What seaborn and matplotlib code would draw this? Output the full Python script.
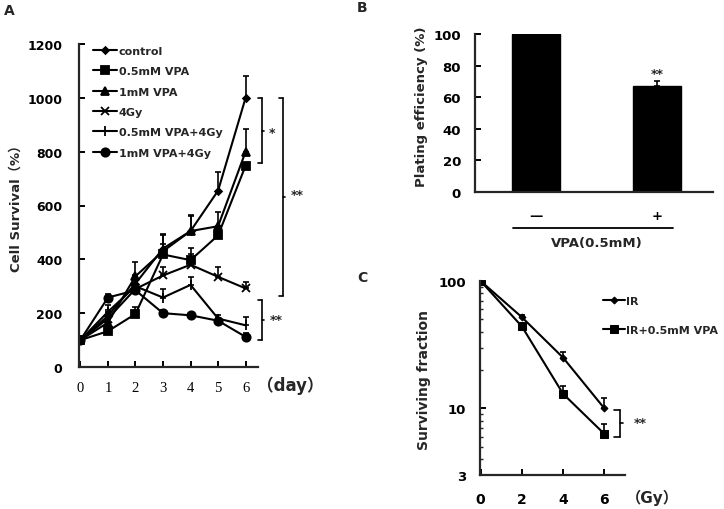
import matplotlib
matplotlib.use("Agg")
import matplotlib.pyplot as plt
from matplotlib.lines import Line2D
from matplotlib.ticker import FixedLocator, FixedFormatter, NullFormatter
import seaborn as sns
import numpy as np

# ---- panel A data: cell survival (%) over days
days = [0, 1, 2, 3, 4, 5, 6]
series_names = ["control", "0.5mM VPA", "1mM VPA", "4Gy", "0.5mM VPA+4Gy", "1mM VPA+4Gy"]
control = [100, 190, 310, 440, 505, 655, 1000]
vpa05 = [100, 133, 197, 418, 397, 489, 748]
vpa1 = [100, 165, 337, 430, 505, 523, 800]
gy4 = [100, 180, 290, 340, 380, 335, 292]
vpa05_gy4 = [100, 205, 300, 258, 305, 180, 155]
vpa1_gy4 = [100, 258, 285, 200, 192, 172, 112]
control_err = [0, 20, 30, 55, 55, 70, 80]
vpa05_err = [0, 10, 25, 40, 45, 10, 0]
vpa1_err = [0, 30, 53, 60, 60, 52, 85]
gy4_err = [0, 25, 20, 30, 40, 35, 25]
vpa05_gy4_err = [0, 25, 20, 30, 30, 15, 30]
vpa1_gy4_err = [0, 15, 15, 10, 10, 10, 15]

# ---- panel B data: plating efficiency
vpa_groups = ["\u2014", "+"]
plating = [100, 67]
plating_err = [0, 3]

# ---- panel C data: surviving fraction vs dose
dose = [0, 2, 4, 6]
ir = [100, 52, 25, 10]
ir_vpa = [100, 44, 13, 6.3]
ir_err = [0, 2, 2.5, 2]
ir_vpa_err = [0, 2, 2, 1.2]

W, H = 724, 510
sns.set_style("ticks")
plt.rcParams["font.family"] = ["DejaVu Sans", "Noto Sans CJK SC"]
plt.rcParams["font.weight"] = "bold"
plt.rcParams["axes.linewidth"] = 1.6
fig = plt.figure(figsize=(W / 100, H / 100), dpi=100)


def fx(px):
    return px / W


def fy(py):
    return 1 - py / H


def style_axis(ax, size):
    for s in ["top", "right"]:
        ax.spines[s].set_visible(False)
    ax.tick_params(direction="in", width=1.4, length=4, labelsize=size, colors="black")
    for lab in ax.get_xticklabels() + ax.get_yticklabels():
        lab.set_fontweight("bold")


def bracket(ax, x, y0, y1, label, lx, ly, tick=0.12, nub=0.08, logy=False):
    kw = dict(color="black", lw=1.2, clip_on=False)
    ax.plot([x, x], [y0, y1], **kw)
    ax.plot([x - tick, x], [y0, y0], **kw)
    ax.plot([x - tick, x], [y1, y1], **kw)
    ym = np.sqrt(y0 * y1) if logy else (y0 + y1) / 2
    ax.plot([x, x + nub], [ym, ym], **kw)
    ax.text(lx, ly, label, fontsize=9, fontweight="bold", ha="left", va="center")


# ================= Panel A
axA = fig.add_axes([fx(79), fy(368), fx(258 - 79), (368 - 45) / H])
ys = [control, vpa05, vpa1, gy4, vpa05_gy4, vpa1_gy4]
errs = [control_err, vpa05_err, vpa1_err, gy4_err, vpa05_gy4_err, vpa1_gy4_err]
markers = ["D", "s", "^", "x", "|", "o"]
msizes = [3.5, 5.5, 6, 6, 7, 6]
for name, y, e, m, ms in zip(series_names, ys, errs, markers, msizes):
    axA.errorbar(days, y, yerr=[np.zeros(len(e)), e], fmt="none", ecolor="black",
                 elinewidth=1.2, capsize=2.5, capthick=1.2)
    sns.lineplot(x=days, y=y, ax=axA, color="black", marker=m, markersize=ms,
                 markeredgecolor="black", markeredgewidth=1.3, linewidth=1.5, label=name)
axA.set_xlim(-0.05, 6.45)
axA.set_ylim(0, 1200)
axA.set_yticks([0, 200, 400, 600, 800, 1000, 1200])
axA.set_xticks(days)
axA.set_ylabel("")
axA.set_xlabel("")
style_axis(axA, 9)
axA.tick_params(axis="y", pad=12)
axA.tick_params(axis="x", pad=10)
for lab in axA.get_xticklabels():
    lab.set_fontfamily(["Liberation Serif", "Noto Sans CJK SC"])
    lab.set_fontweight("normal")
    lab.set_fontsize(10.5)
axA.legend(loc="upper left", bbox_to_anchor=(fx(93), fy(47)), bbox_transform=fig.transFigure,
           frameon=False, prop={"weight": "bold", "size": 8}, handlelength=2.2,
           handletextpad=0.1, labelspacing=0.93, borderaxespad=0, borderpad=0)
fig.text(fx(16), fy(205), "Cell Survival\uff08%\uff09", fontsize=9.5, fontweight="bold",
         rotation=90, ha="center", va="center")
fig.text(fx(257), fy(386), "\uff08day\uff09", fontsize=12, fontweight="bold", ha="left",
         va="center")
bracket(axA, 6.58, 1000, 757, "*", 6.83, 870)
bracket(axA, 7.34, 1000, 265, "**", 7.65, 640)
bracket(axA, 6.58, 250, 100, "**", 6.88, 176)
fig.text(fx(9), fy(11), "A", fontsize=10, fontweight="bold", ha="center", va="center")

# ================= Panel B
axB = fig.add_axes([fx(475), fy(193), fx(713 - 475), (193 - 35) / H])
sns.barplot(x=vpa_groups, y=plating, ax=axB, color="black", width=0.395,
            saturation=1, edgecolor="black")
axB.errorbar([1], [plating[1]], yerr=[[0], [plating_err[1]]], fmt="none",
             ecolor="black", elinewidth=1.2, capsize=2.5, capthick=1.2)
axB.set_xlim(-0.502, 1.457)
axB.set_ylim(0, 100)
axB.set_yticks([0, 20, 40, 60, 80, 100])
axB.set_ylabel("")
style_axis(axB, 9.5)
axB.tick_params(axis="y", pad=10)
axB.tick_params(axis="x", length=0, pad=12)
axB.text(1, 71, "**", fontsize=9, fontweight="bold", ha="center", va="bottom")
fig.text(fx(422), fy(107), "Plating efficiency (%)", fontsize=9.5, fontweight="bold",
         rotation=90, ha="center", va="center")
fig.add_artist(Line2D([fx(513), fx(673)], [fy(229), fy(229)], color="black", lw=1.3))
fig.text(fx(597), fy(244), "VPA(0.5mM)", fontsize=9.5, fontweight="bold", ha="center", va="center")
fig.text(fx(362), fy(8), "B", fontsize=10, fontweight="bold", ha="center", va="center")

# ================= Panel C
axC = fig.add_axes([fx(480), fy(476), fx(625 - 480), (476 - 282) / H])
for y, e, m, ms, name in [(ir, ir_err, "D", 3.5, "IR"), (ir_vpa, ir_vpa_err, "s", 5.5, "IR+0.5mM VPA")]:
    axC.errorbar(dose, y, yerr=[np.zeros(len(e)), e], fmt="none", ecolor="black",
                 elinewidth=1.2, capsize=2.5, capthick=1.2)
    sns.lineplot(x=dose, y=y, ax=axC, color="black", marker=m, markersize=ms,
                 markeredgecolor="black", linewidth=1.5, label=name)
axC.set_yscale("log")
axC.set_ylim(3, 100)
axC.set_xlim(-0.03, 7)
axC.yaxis.set_major_locator(FixedLocator([3, 10, 100]))
axC.yaxis.set_major_formatter(FixedFormatter(["3", "10", "100"]))
axC.yaxis.set_minor_locator(FixedLocator([4, 5, 6, 7, 8, 9, 20, 30, 40, 50, 60, 70, 80, 90]))
axC.yaxis.set_minor_formatter(NullFormatter())
axC.set_xticks(dose)
axC.set_ylabel("")
style_axis(axC, 9.5)
axC.tick_params(axis="y", pad=10)
axC.tick_params(axis="x", pad=12, labelsize=10)
axC.tick_params(axis="y", which="minor", direction="in", length=2.5, width=1)
axC.legend(loc="upper left", bbox_to_anchor=(fx(603), fy(297)), bbox_transform=fig.transFigure,
           frameon=False, prop={"weight": "bold", "size": 8}, handlelength=2.0,
           handletextpad=0.1, labelspacing=1.72, borderaxespad=0, borderpad=0)
bracket(axC, 6.74, 9.8, 6.0, "**", 7.4, 7.7, tick=0.25, nub=0.15, logy=True)
fig.text(fx(424), fy(380), "Surviving fraction", fontsize=10, fontweight="bold",
         rotation=90, ha="center", va="center")
fig.text(fx(626), fy(498), "\uff08Gy\uff09", fontsize=11, fontweight="bold", ha="left", va="center")
fig.text(fx(362), fy(278), "C", fontsize=10, fontweight="bold", ha="center", va="center")

fig.savefig("out.png", dpi=100)
